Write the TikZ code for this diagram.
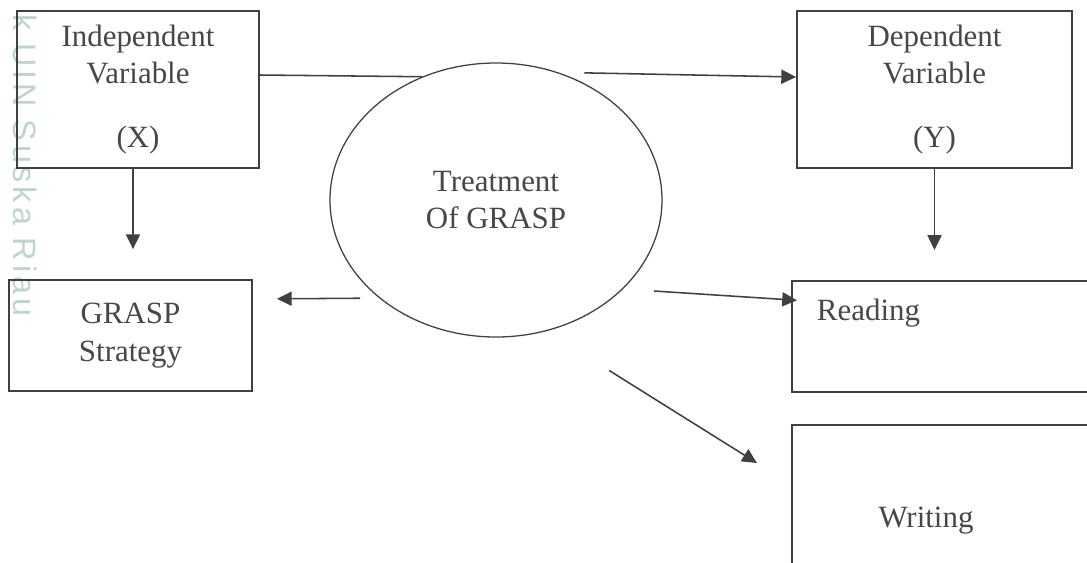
\documentclass[tikz,border=0pt]{standalone}
\usepackage{fontspec}
\setmainfont{Liberation Serif}
\newfontfamily\markfont[LetterSpace=12]{Liberation Sans}
\usetikzlibrary{arrows.meta,shapes.geometric}

\definecolor{linegray}{HTML}{404040}
\definecolor{textgray}{HTML}{474747}
\definecolor{markgreen}{HTML}{BCD7CA}

\tikzset{
  varbox/.style={draw=linegray, line width=1.3pt, text=textgray, align=center, inner sep=0pt},
  link/.style={draw=linegray, line width=1.1pt},
  arr/.style={link, -{Triangle[length=10.5pt,width=10pt]}},
}

\begin{document}
\begin{tikzpicture}[x=0.025cm, y=-0.025cm, font=\fontsize{22}{26.5}\selectfont]
    % one unit = one pixel of the scan, y runs downwards
    \def\pxu{0.025cm}
    \useasboundingbox[fill=white] (0,0) rectangle (1087,562);
    \clip (0,0) rectangle (1087,562);

    % watermark along the left edge
    \node[font=\markfont\fontsize{23}{23}\selectfont, text=markgreen, rotate=-90, anchor=west, inner sep=0pt] (mark) at (25,14) {k UIN Suska Riau};

    % variable boxes
    \node[varbox, minimum width=242*\pxu, minimum height=157*\pxu] (indep) at (138,89.5) {Independent\\Variable\\[19pt](X)};
    \node[varbox, minimum width=275*\pxu, minimum height=157*\pxu] (dep) at (934.5,89.5) {Dependent\\Variable\\[19pt](Y)};
    \node[varbox, minimum width=243*\pxu, minimum height=111*\pxu] (grasp) at (130.5,335.5) {GRASP\\Strategy};

    % treatment in the middle
    \node[ellipse, draw=linegray, line width=0.9pt, text=textgray, align=center, inner sep=0pt,
          minimum width=332*\pxu, minimum height=274*\pxu] (treat) at (496,200) {Treatment\\Of GRASP};

    % skills, both run off the page
    \node[varbox, minimum width=320*\pxu, minimum height=111*\pxu, anchor=north west] (read) at (791,280) {};
    \node[varbox, minimum width=320*\pxu, minimum height=200*\pxu, anchor=north west] (write) at (791,424) {};
    \node[text=textgray, anchor=base west] (readtxt) at (812,320) {Reading};
    \node[text=textgray, anchor=base] (writetxt) at (926,527) {Writing};

    % connectors
    \draw[link] ([yshift=14.5*\pxu]indep.east) -- (treat.121.7);
    \draw[arr, shorten <=26*\pxu] (treat.64.5) -- ([yshift=12.5*\pxu]dep.west);
    \draw[arr, shorten >=30*\pxu] ([xshift=-5*\pxu]indep.south) -- ([xshift=2.5*\pxu]grasp.north);
    \draw[arr, shorten >=30*\pxu] (dep.south) -- (dep.south |- read.north);
    \draw[arr, shorten <=19*\pxu, shorten >=24*\pxu] (treat.220.7) -- ([yshift=36.5*\pxu]grasp.east);
    \draw[arr, shorten <=31*\pxu, shorten >=-6*\pxu] (treat.-35.3) -- ([yshift=36.5*\pxu]read.west);
    \draw[arr, shorten <=74*\pxu] (treat.-69.8) -- ([shift={(-34,39)}]write.north west);
\end{tikzpicture}
\end{document}
